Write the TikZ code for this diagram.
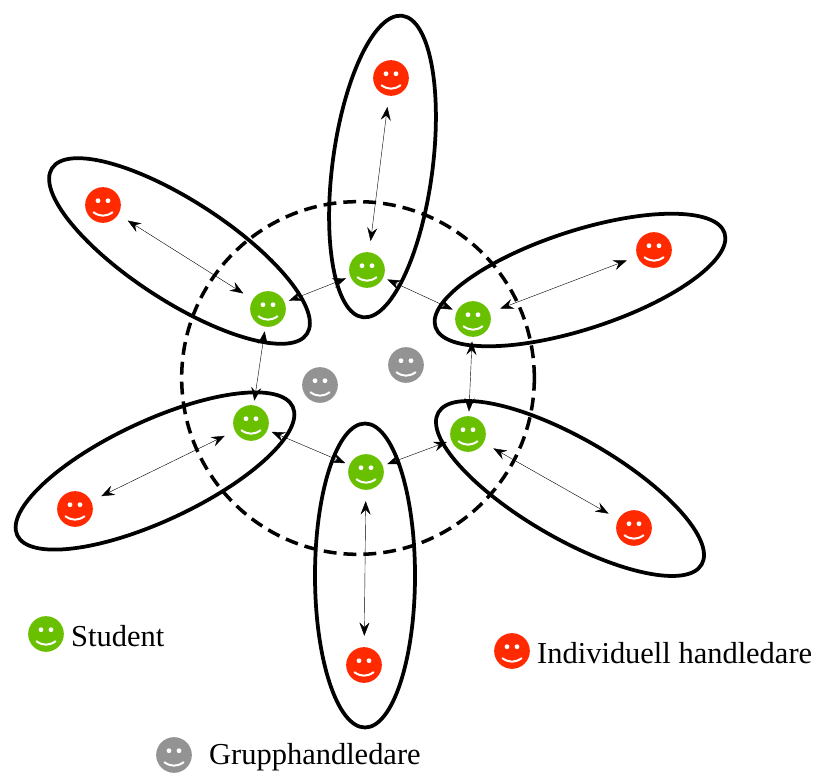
\documentclass[tikz,border=0pt]{standalone}
\usepackage{fontspec}
\setmainfont{Liberation Serif}
\usetikzlibrary{arrows.meta,shapes.geometric}
\definecolor{studentgreen}{HTML}{69C000}
\definecolor{tutorred}{HTML}{FF2A00}
\definecolor{groupgray}{HTML}{939393}
\newcommand{\smileypic}{%
\fill[white] ([shift={(-5,-4.3)}]path picture bounding box.center) circle[radius=2.4];
\fill[white] ([shift={(5,-4.3)}]path picture bounding box.center) circle[radius=2.4];
\draw[white,line width=1.7pt,line cap=round] ([shift={(-9.5,7.3)}]path picture bounding box.center) .. controls ([shift={(-3,11.8)}]path picture bounding box.center) and ([shift={(3,11.8)}]path picture bounding box.center) .. ([shift={(9.5,7.3)}]path picture bounding box.center);}
\tikzset{
  smiley/.style={circle,fill=#1,minimum size=10.7mm,inner sep=0pt,outer sep=1.4mm,path picture={\smileypic}},
  petal/.style={ellipse,draw,line width=3.2pt,inner sep=0pt,minimum width=91.2mm,minimum height=#1},
  twoway/.style={{Stealth[length=4mm,width=3mm,inset=1.4mm]}-{Stealth[length=4mm,width=3mm,inset=1.4mm]},line width=0.35pt,shorten <=#1,shorten >=#1},
  twoway/.default=0pt,
  legend/.style={font=\fontsize{26}{30}\selectfont,anchor=west,inner sep=0pt}
}
\begin{document}
\begin{tikzpicture}[x=0.3mm,y=-0.3mm]
\useasboundingbox (0,0) rectangle (814,774);
% petals
\node[petal=30mm,rotate=82.5] (ptop) at (382.5,166.5) {};
\node[petal=29.5mm,rotate=18] (pur) at (580,280) {};
\node[petal=30mm,rotate=-30] (plr) at (570,488.5) {};
\node[petal=30mm,rotate=90] (pbot) at (365,575.5) {};
\node[petal=30mm,rotate=25] (pll) at (155,471) {};
\node[petal=30mm,rotate=-33] (pul) at (179.5,251) {};
\node[circle,draw,line width=3pt,minimum size=105.8mm,inner sep=0pt,dash pattern=on 11pt off 6pt] (ring) at (358,378) {};
% students
\node[smiley=studentgreen] (s1) at (367,270) {};
\node[smiley=studentgreen] (s2) at (473,319) {};
\node[smiley=studentgreen] (s3) at (468,434) {};
\node[smiley=studentgreen] (s4) at (366,472) {};
\node[smiley=studentgreen] (s5) at (251,423) {};
\node[smiley=studentgreen] (s6) at (268,309) {};
% individual tutors
\node[smiley=tutorred] (h1) at (391,78) {};
\node[smiley=tutorred] (h2) at (654,250) {};
\node[smiley=tutorred] (h3) at (634,528) {};
\node[smiley=tutorred] (h4) at (364,665) {};
\node[smiley=tutorred] (h5) at (75,509) {};
\node[smiley=tutorred] (h6) at (103,205) {};
% group tutors
\node[smiley=groupgray] (g1) at (320,385) {};
\node[smiley=groupgray] (g2) at (406,365) {};
% connectors
\draw[twoway] (s1) -- (s2);
\draw[twoway] (s2) -- (s3);
\draw[twoway] (s3) -- (s4);
\draw[twoway] (s4) -- (s5);
\draw[twoway] (s5) -- (s6);
\draw[twoway] (s6) -- (s1);
\draw[twoway=2mm] (s1) -- (h1);
\draw[twoway=2mm] (s2) -- (h2);
\draw[twoway=2mm] (s3) -- (h3);
\draw[twoway=2mm] (s4) -- (h4);
\draw[twoway=2mm] (s5) -- (h5);
\draw[twoway=2mm] (s6) -- (h6);
% legend
\node[smiley=studentgreen] (ls) at (46,634) {};
\node[legend] (lst) at (71,636) {Student};
\node[smiley=tutorred] (lh) at (512,651) {};
\node[legend] (lht) at (537,653) {Individuell handledare};
\node[smiley=groupgray] (lg) at (174,755) {};
\node[legend] (lgt) at (209,757) {Grupphandledare};
\end{tikzpicture}
\end{document}
